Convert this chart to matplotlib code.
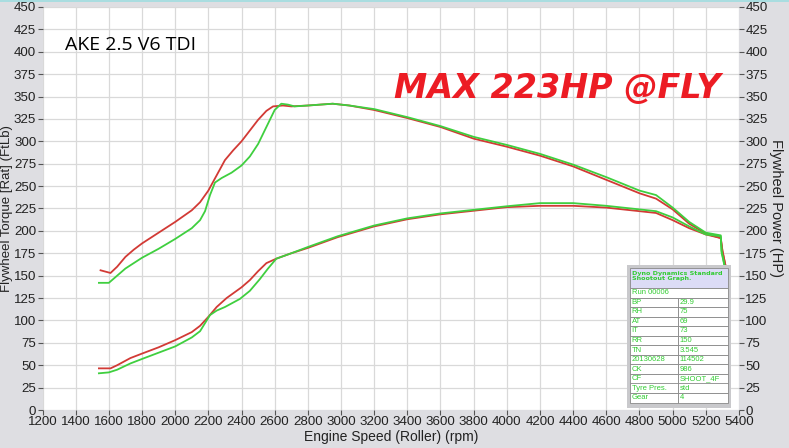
import matplotlib
matplotlib.use("Agg")
import matplotlib.pyplot as plt
from matplotlib.patches import Rectangle

# ---------------- data ----------------
rpm_tq_red = [1550, 1610, 1650, 1700, 1750, 1800, 1900, 2000, 2100, 2150, 2200, 2250, 2300, 2350, 2400,
              2450, 2500, 2550, 2590, 2650, 2700, 2800, 2950, 3050,
              3200, 3400, 3600, 3800, 4000, 4200, 4400, 4600, 4800, 4900, 5000, 5100, 5200, 5290, 5300, 5320]
tq_red = [156, 153, 160, 171, 179, 186, 198, 210, 223, 232, 245, 262, 279, 290, 300,
          312, 324, 334, 339, 340, 339, 340, 342, 340,
          335, 326, 316, 303, 294, 284, 272, 257, 242, 236, 224, 208, 197, 192, 178, 160]

rpm_tq_green = [1540, 1600, 1650, 1700, 1800, 1900, 2000, 2100, 2150, 2180, 2210, 2240, 2280, 2340, 2400,
                2450, 2500, 2550, 2600, 2640, 2680, 2720, 2800,
                2950, 3050, 3200, 3400, 3600, 3800, 4000, 4200, 4400, 4600, 4800, 4900, 5000, 5100, 5200,
                5290, 5295, 5320]
tq_green = [142, 142, 150, 158, 170, 180, 191, 203, 212, 222, 240, 254, 259, 265, 273,
            283, 297, 316, 335, 342, 341, 339, 340,
            342, 340, 336, 327, 317, 305, 296, 286, 274, 260, 245, 240, 226, 210, 198,
            195, 178, 155]

rpm_hp_red = [1540, 1610, 1650, 1730, 1800, 1900, 2000, 2100, 2150, 2200, 2250, 2310, 2400, 2450, 2500,
              2550, 2610, 2700, 2800, 2980, 3200, 3400,
              3600, 3800, 4000, 4200, 4400, 4600, 4700, 4900, 5000, 5100, 5200, 5290, 5300, 5320]
hp_red = [46.5, 46.5, 50, 58, 63, 70, 78, 87, 94, 104, 115, 125, 137, 145, 155,
          164, 169, 175, 181, 193, 205, 213,
          218.5, 222.5, 226.5, 228, 228, 226, 224, 220, 212, 203, 196, 192, 178, 160]

rpm_hp_green = [1540, 1600, 1650, 1730, 1800, 1900, 2000, 2100, 2150, 2180, 2210, 2250, 2300, 2390, 2450,
                2510, 2560, 2610, 2700, 2800, 2980, 3200, 3400,
                3600, 3800, 4000, 4200, 4400, 4600, 4700, 4900, 5000, 5100, 5200, 5290, 5295, 5320]
hp_green = [41, 42, 45, 52, 57, 64, 71, 81, 88, 97, 106, 111, 115, 124, 133,
            146, 158, 169, 175, 182, 194, 206, 214,
            219.5, 223.5, 227.5, 231, 231, 228, 226, 222, 215, 205, 196, 194, 176, 155]

table_header = "Dyno Dynamics Standard\nShootout Graph."
table_rows = [("Run 00006", ""), ("BP", "29.9"), ("RH", "75"), ("AT", "69"), ("IT", "73"),
              ("RR", "150"), ("TN", "3.545"), ("20130628", "114502"), ("CK", "986"),
              ("CF", "SHOOT_4F"), ("Tyre Pres.", "std"), ("Gear", "4")]

yticks = list(range(0, 451, 25))
xticks = list(range(1200, 5401, 200))

# ---------------- style ----------------
plt.rcParams['font.family'] = ['Liberation Sans', 'DejaVu Sans']

bg = "#dedee2"
fig = plt.figure(figsize=(7.89, 4.48), dpi=100, facecolor=bg)
ax = fig.add_axes([0.0539, 0.0848, 0.8827, 0.8996])
ax.set_facecolor("white")

red = "#d23a35"
green = "#3fcf3f"
lw = 1.3
ax.plot(rpm_tq_red, tq_red, color=red, lw=lw, zorder=3)
ax.plot(rpm_hp_red, hp_red, color=red, lw=lw, zorder=3)
ax.plot(rpm_tq_green, tq_green, color=green, lw=lw, zorder=4)
ax.plot(rpm_hp_green, hp_green, color=green, lw=lw, zorder=4)

ax.set_xlim(1200, 5400)
ax.set_ylim(0, 450)
ax.set_xticks(xticks)
ax.set_yticks(yticks)
ax.grid(True, color="#d9d9d9", lw=0.9)
ax.set_axisbelow(True)
for s in ax.spines.values():
    s.set_visible(False)
tick_kw = dict(colors="#555555", labelcolor="#222222", labelsize=9.6, length=3.5, width=0.8, pad=1)
ax.tick_params(axis='both', **tick_kw)

ax2 = ax.twinx()
ax2.set_ylim(0, 450)
ax2.set_yticks(yticks)
for s in ax2.spines.values():
    s.set_visible(False)
ax2.tick_params(axis='y', **tick_kw)

ax.set_xlabel("Engine Speed (Roller) (rpm)", fontsize=10, color="#222222", labelpad=1)
ax.set_ylabel("Flywheel Torque [Rat] (FtLb)", fontsize=9.5, color="#222222", labelpad=1)
ax2.set_ylabel("Flywheel Power (HP)", fontsize=10.5, color="#222222", rotation=270, labelpad=11)

# titles
fig.text(65 / 789, 1 - 45 / 448, "AKE 2.5 V6 TDI", fontsize=14, color="black", fontweight="medium",
         family=["Open Sans", "DejaVu Sans"], va="center", ha="left")
fig.text(557 / 789, 1 - 88 / 448, "MAX 223HP @FLY", fontsize=24, color="#ec1c24",
         fontweight="bold", fontstyle="italic", family=["DejaVu Sans"], va="center", ha="center")

# top cyan line
fig.patches.append(Rectangle((0, 1 - 2 / 448), 1, 2 / 448, transform=fig.transFigure,
                             facecolor="#a9dde0", edgecolor="none"))

# info table (figure pixel coords)
W, H = 789, 448
x0, x1, xs = 630, 728, 678
ytop, yh_end = 268, 288
rh = 9.55
tg = "#33cc33"
fig.patches.append(Rectangle(((x0 - 3) / W, 1 - (yh_end + rh * len(table_rows) + 5) / H),
                             (x1 - x0 + 6) / W, (yh_end + rh * len(table_rows) + 5 - ytop + 3) / H,
                             transform=fig.transFigure, facecolor="#c9c9cc", edgecolor="none", zorder=5))
fig.patches.append(Rectangle((x0 / W, 1 - yh_end / H), (x1 - x0) / W, (yh_end - ytop) / H,
                             transform=fig.transFigure, facecolor="#dcdcf6", edgecolor="#888888",
                             lw=0.6, zorder=6))
fig.text((x0 + 2) / W, 1 - (ytop + 2.5) / H, table_header, fontsize=4.6, color=tg, fontweight="bold",
         va="top", ha="left", zorder=7, linespacing=1.05, family=["DejaVu Sans"])
for i, (a, b) in enumerate(table_rows):
    yt = yh_end + i * rh
    if i == 0:
        fig.patches.append(Rectangle((x0 / W, 1 - (yt + rh) / H), (x1 - x0) / W, rh / H,
                                     transform=fig.transFigure, facecolor="white", edgecolor="#888888",
                                     lw=0.6, zorder=6))
    else:
        fig.patches.append(Rectangle((x0 / W, 1 - (yt + rh) / H), (xs - x0) / W, rh / H,
                                     transform=fig.transFigure, facecolor="white", edgecolor="#888888",
                                     lw=0.6, zorder=6))
        fig.patches.append(Rectangle((xs / W, 1 - (yt + rh) / H), (x1 - xs) / W, rh / H,
                                     transform=fig.transFigure, facecolor="white", edgecolor="#888888",
                                     lw=0.6, zorder=6))
    fig.text((x0 + 1.5) / W, 1 - (yt + rh / 2) / H, a, fontsize=5.5, color=tg, va="center",
             ha="left", zorder=7)
    if b:
        fig.text((xs + 1.5) / W, 1 - (yt + rh / 2) / H, b, fontsize=5.5, color=tg, va="center",
                 ha="left", zorder=7)

fig.savefig("out.png", dpi=100, facecolor=bg)
